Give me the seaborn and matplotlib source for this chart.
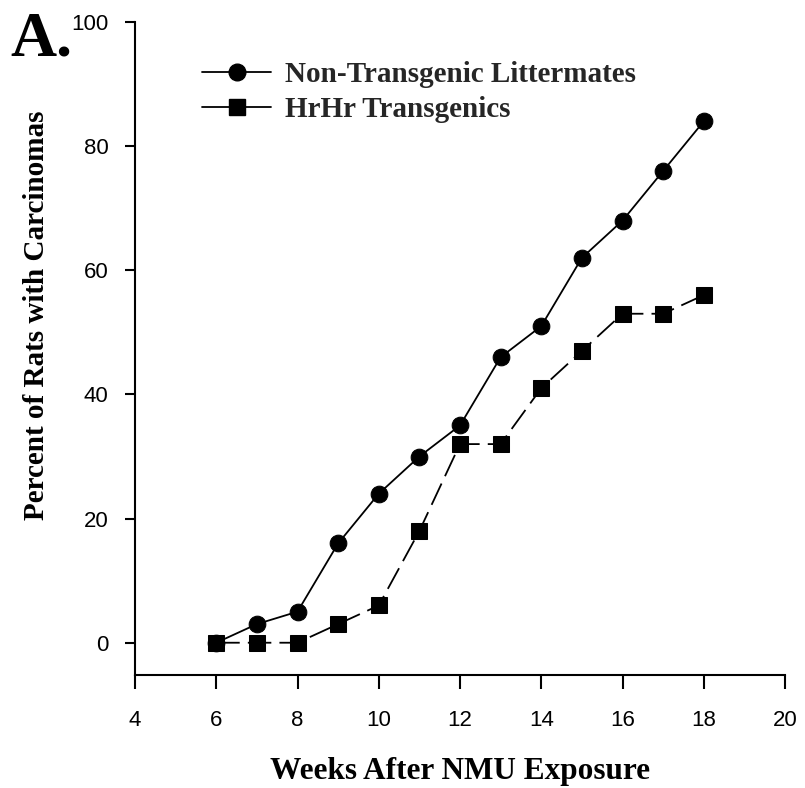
import matplotlib
matplotlib.use("Agg")
import matplotlib.pyplot as plt
import seaborn as sns
import pandas as pd
from matplotlib.lines import Line2D

weeks = [6, 7, 8, 9, 10, 11, 12, 13, 14, 15, 16, 17, 18]
non_transgenic = [0, 3, 5, 16, 24, 30, 35, 46, 51, 62, 68, 76, 84]
hrhr_transgenic = [0, 0, 0, 3, 6, 18, 32, 32, 41, 47, 53, 53, 56]
series_labels = ["Non-Transgenic Littermates", "HrHr Transgenics"]
x_ticks = [4, 6, 8, 10, 12, 14, 16, 18, 20]
y_ticks = [0, 20, 40, 60, 80, 100]

sns.set_theme(style="ticks")
serif = ["Liberation Serif", "DejaVu Serif"]
sans = ["Liberation Sans", "DejaVu Sans"]

df = pd.DataFrame({"week": weeks, "non": non_transgenic, "hrhr": hrhr_transgenic})

fig = plt.figure(figsize=(8.05, 7.88), dpi=100)
ax = fig.add_axes([135 / 805, 1 - 675 / 788, 650 / 805, (675 - 22) / 788])

sns.lineplot(data=df, x="week", y="non", ax=ax, color="black", marker="o",
             markersize=12, markeredgecolor="black", linewidth=1.3, linestyle="-")
sns.lineplot(data=df, x="week", y="hrhr", ax=ax, color="black", marker="s",
             markersize=11, markeredgecolor="black", linewidth=1.3,
             linestyle=(0, (13, 4.5)))

ax.set_xlim(4, 20)
ax.set_ylim(-5.2, 100)
ax.set_xticks(x_ticks)
ax.set_yticks(y_ticks)
for lab in ax.get_xticklabels() + ax.get_yticklabels():
    lab.set_fontfamily(sans)
    lab.set_fontsize(16)
ax.tick_params(axis="y", direction="out", length=7, width=1.5, pad=12, colors="black")
ax.tick_params(axis="x", direction="out", length=10, width=1.5, pad=15, colors="black")
sns.despine(ax=ax)
for s in ["left", "bottom"]:
    ax.spines[s].set_linewidth(1.5)
    ax.spines[s].set_color("black")

ax.set_xlabel("Weeks After NMU Exposure", fontsize=22.5, fontweight="bold",
              family=serif, labelpad=19, color="black")
ax.set_ylabel("Percent of Rats with Carcinomas", fontsize=21, fontweight="bold",
              family=serif, color="black")
ax.yaxis.set_label_coords(-0.131, 0.551)

handles = [
    Line2D([], [], color="black", marker="o", markersize=12, linewidth=1.3),
    Line2D([], [], color="black", marker="s", markersize=11, linewidth=1.3),
]
leg = ax.legend(handles, series_labels, loc="upper left", bbox_to_anchor=(0.081, 0.963),
                frameon=False, handlelength=2.35, handletextpad=0.5, labelspacing=0.3,
                borderpad=0, prop={"family": serif, "weight": "bold", "size": 21})

fig.text(10 / 805, 1 - 56 / 788, "A.", fontsize=46, fontweight="bold",
         family=serif, color="black", va="baseline", ha="left")

fig.savefig("out.png", dpi=100, facecolor="white")
